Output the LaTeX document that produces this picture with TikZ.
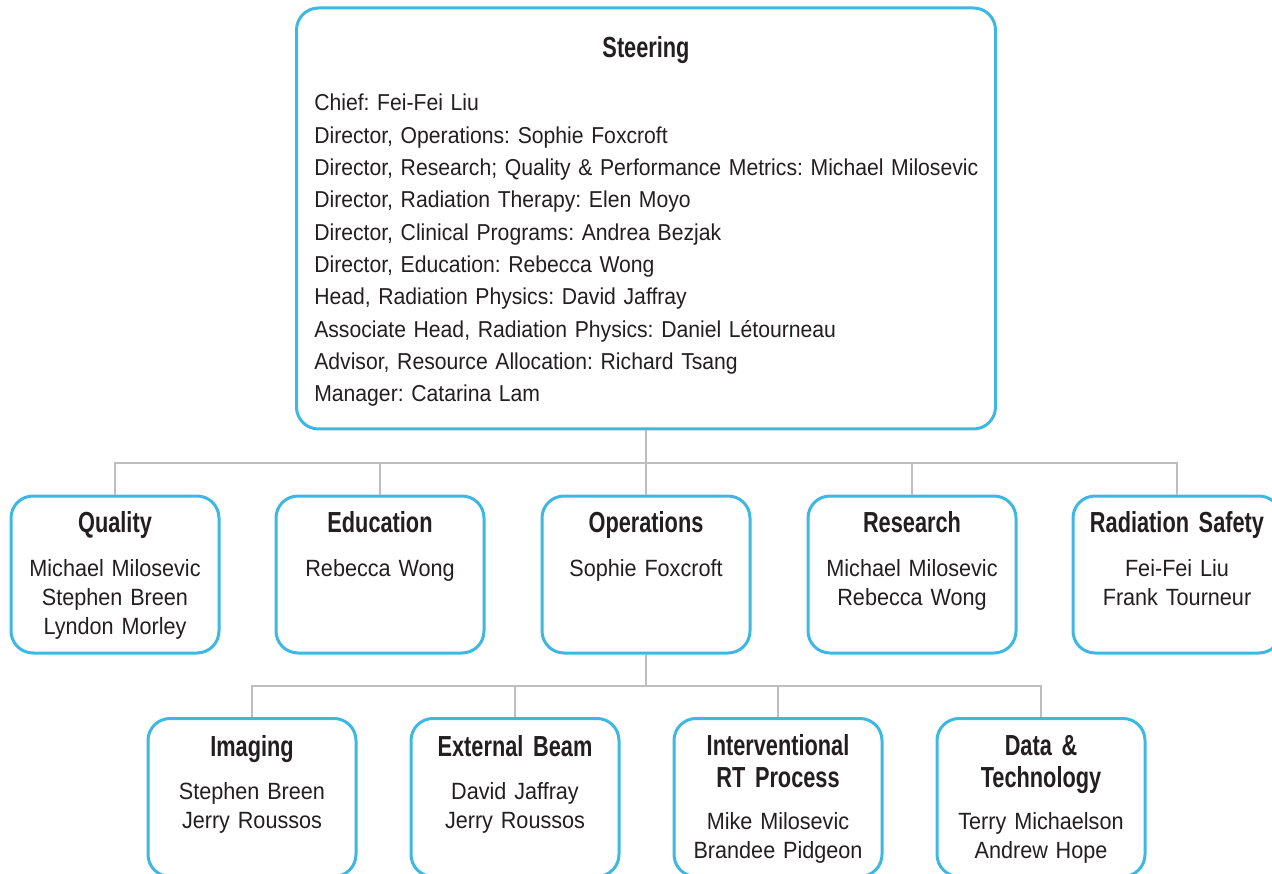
\documentclass[tikz,border=0pt]{standalone}
\usepackage{fontspec}
\setmainfont{Liberation Sans}[FakeStretch=0.92]
\newfontfamily\headfont{Liberation Sans}[FakeStretch=0.75]
\definecolor{boxblue}{HTML}{3DB8E3}
\definecolor{ink}{HTML}{231F20}
\definecolor{wire}{HTML}{BEBEBE}
\frenchspacing

\begin{document}
\begin{tikzpicture}[x=1pt, y=-1pt, semithick,
	unit/.style={draw=boxblue, line width=3pt, rounded corners=22pt, fill=white, inner sep=0pt, minimum width=208pt, minimum height=157pt},
	head/.style={text=ink, inner sep=0pt, anchor=base, text width=205pt, align=center, font={\headfont\bfseries\fontsize{29}{32}\selectfont}},
	names/.style={text=ink, inner sep=0pt, anchor=base, text width=205pt, align=center, font={\fontsize{23.5}{29}\selectfont}},
	link/.style={draw=wire, line width=1.5pt}]
		\useasboundingbox (0,0) rectangle (1272,874);

		% top box
		\node[unit, minimum width=699pt, minimum height=421pt]	(steering) at (646, 218.5) {};
		\node[head]		(steering-t) at (646, 58) {Steering};
		\node[text=ink, inner sep=0pt, anchor=base west, text width=760pt, align=left, font={\fontsize{23}{32.3}\selectfont}]
						(steering-n) at (314, 111) {Chief: Fei-Fei Liu\\
			Director, Operations: Sophie Foxcroft\\
			Director, Research; Quality \& Performance Metrics: Michael Milosevic\\
			Director, Radiation Therapy: Elen Moyo\\
			Director, Clinical Programs: Andrea Bezjak\\
			Director, Education: Rebecca Wong\\
			Head, Radiation Physics: David Jaffray\\
			Associate Head, Radiation Physics: Daniel Létourneau\\
			Advisor, Resource Allocation: Richard Tsang\\
			Manager: Catarina Lam};

		% middle row
		\node[unit]		(quality) at (115, 574.5) {};
		\node[unit]		(education) at (380, 574.5) {};
		\node[unit]		(operations) at (646, 574.5) {};
		\node[unit]		(research) at (912, 574.5) {};
		\node[unit]		(safety) at (1177, 574.5) {};

		\node[head]		(quality-t) at (115, 532) {Quality};
		\node[names]	(quality-n) at (115, 576) {Michael Milosevic\\Stephen Breen\\Lyndon Morley};
		\node[head]		(education-t) at (380, 532) {Education};
		\node[names]	(education-n) at (380, 576) {Rebecca Wong};
		\node[head]		(operations-t) at (646, 532) {Operations};
		\node[names]	(operations-n) at (646, 576) {Sophie Foxcroft};
		\node[head]		(research-t) at (912, 532) {Research};
		\node[names]	(research-n) at (912, 576) {Michael Milosevic\\Rebecca Wong};
		\node[head]		(safety-t) at (1177, 532) {Radiation Safety};
		\node[names]	(safety-n) at (1177, 576) {Fei-Fei Liu\\Frank Tourneur};

		% bottom row
		\node[unit, minimum height=158pt]	(imaging) at (252, 797.5) {};
		\node[unit, minimum height=158pt]	(beam) at (515, 797.5) {};
		\node[unit, minimum height=158pt]	(process) at (778, 797.5) {};
		\node[unit, minimum height=158pt]	(data) at (1041, 797.5) {};

		\node[head]		(imaging-t) at (252, 756) {Imaging};
		\node[names]	(imaging-n) at (252, 799) {Stephen Breen\\Jerry Roussos};
		\node[head]		(beam-t) at (515, 756) {External Beam};
		\node[names]	(beam-n) at (515, 799) {David Jaffray\\Jerry Roussos};
		\node[head]		(process-t) at (778, 755) {Interventional\\RT Process};
		\node[names]	(process-n) at (778, 829) {Mike Milosevic\\Brandee Pidgeon};
		\node[head]		(data-t) at (1041, 755) {Data \&\\Technology};
		\node[names]	(data-n) at (1041, 829) {Terry Michaelson\\Andrew Hope};

		% connectors
		\coordinate		(bus1) at (646, 463);
		\coordinate		(bus2) at (646, 686);

		\draw[link] (steering.south) -- (bus1);
		\draw[link] (bus1) -| (quality.north);
		\draw[link] (bus1) -| (education.north);
		\draw[link] (bus1) -- (operations.north);
		\draw[link] (bus1) -| (research.north);
		\draw[link] (bus1) -| (safety.north);

		\draw[link] (operations.south) -- (bus2);
		\draw[link] (bus2) -| (imaging.north);
		\draw[link] (bus2) -| (beam.north);
		\draw[link] (bus2) -| (process.north);
		\draw[link] (bus2) -| (data.north);
	\end{tikzpicture}
\end{document}
